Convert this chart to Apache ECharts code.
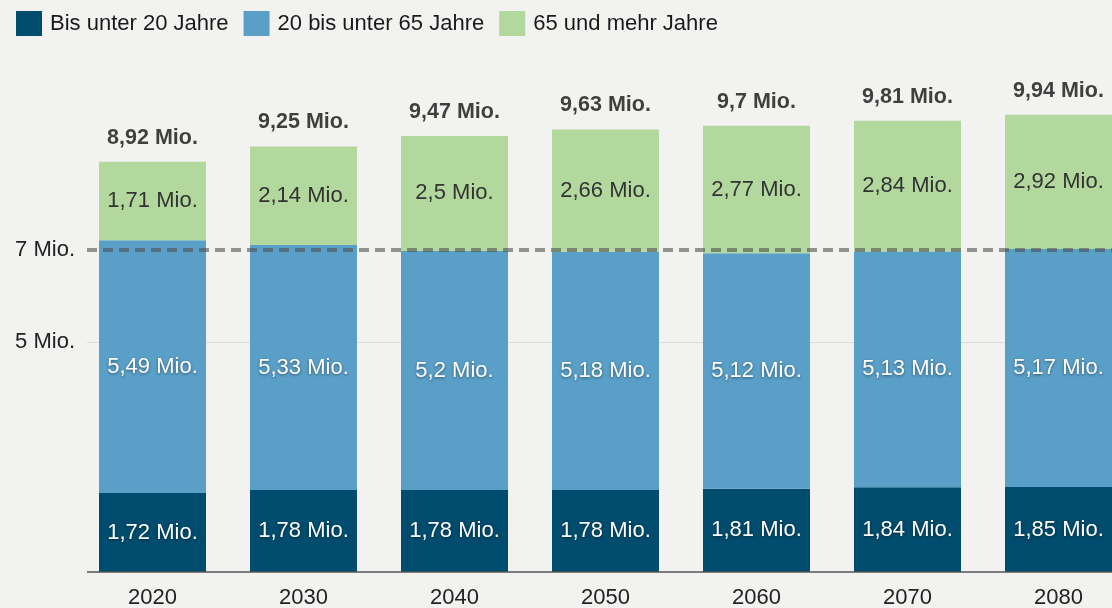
<!DOCTYPE html>
<html>
<head>
<meta charset="utf-8">
<script src="https://cdn.jsdelivr.net/npm/echarts@6/dist/echarts.min.js"></script>
<style>
  html, body { margin: 0; padding: 0; background: #f2f2f1; }
  #main { width: 1112px; height: 608px; }
</style>
</head>
<body>
<div id="main"></div>
<script>
var years = ['2020', '2030', '2040', '2050', '2060', '2070', '2080'];
var unter20 = [1.72, 1.78, 1.78, 1.78, 1.81, 1.84, 1.85];
var von20bis65 = [5.49, 5.33, 5.2, 5.18, 5.12, 5.13, 5.17];
var ab65 = [1.71, 2.14, 2.5, 2.66, 2.77, 2.84, 2.92];
var gesamt = [8.92, 9.25, 9.47, 9.63, 9.7, 9.81, 9.94];
var yTicks = [5, 7];

var myChart = echarts.init(document.getElementById('main'));
var font = 'Liberation Sans, Arial, sans-serif';

function mio(v) {
    return String(v).replace('.', ',') + ' Mio.';
}

var whiteLabel = {
    show: true,
    position: 'inside',
    color: '#fff',
    fontFamily: font,
    fontSize: 22,
    textShadowColor: 'rgba(0,0,0,0.45)',
    textShadowBlur: 3,
    textShadowOffsetY: 1,
    formatter: function (p) { return mio(p.value); }
};

var option = {
    backgroundColor: '#f2f2f1',
    animation: false,
    legend: {
        data: ['Bis unter 20 Jahre', '20 bis unter 65 Jahre', '65 und mehr Jahre'],
        left: 11,
        top: 6,
        icon: 'rect',
        itemWidth: 26,
        itemHeight: 25,
        itemGap: 15,
        textStyle: {
            color: '#1a1a1a',
            fontFamily: font,
            fontSize: 22,
            padding: [0, 0, 0, 3]
        }
    },
    grid: {
        left: 77,
        width: 1057,
        top: 66,
        bottom: 36,
        outerBoundsMode: 'none'
    },
    xAxis: {
        type: 'category',
        data: years,
        axisLine: { show: false },
        axisTick: { show: false },
        axisLabel: {
            color: '#222',
            fontFamily: font,
            fontSize: 22,
            margin: 15
        }
    },
    yAxis: {
        type: 'value',
        min: 0,
        max: 11,
        interval: 1,
        axisLine: { show: false },
        axisTick: { show: false },
        splitLine: { show: false },
        axisLabel: {
            color: '#222',
            fontFamily: font,
            fontSize: 22,
            margin: 2,
            formatter: function (v) {
                return yTicks.indexOf(v) >= 0 ? v + ' Mio.' : '';
            }
        }
    },
    series: [
        {
            name: 'Bis unter 20 Jahre',
            type: 'bar',
            stack: 'total',
            barWidth: 107,
            data: unter20,
            itemStyle: { color: '#004c6e' },
            label: whiteLabel,
            markLine: {
                silent: true,
                symbol: ['none', 'none'],
                label: { show: false },
                lineStyle: { color: '#555', width: 1.5, type: 'solid' },
                data: [[{ x: 87, yAxis: 0 }, { x: 1112, yAxis: 0 }]]
            }
        },
        {
            name: '20 bis unter 65 Jahre',
            type: 'bar',
            stack: 'total',
            data: von20bis65,
            itemStyle: { color: '#5a9fc8' },
            label: whiteLabel,
            markLine: {
                silent: true,
                z: 1,
                symbol: ['none', 'none'],
                label: { show: false },
                lineStyle: { color: '#dcdcdc', width: 1, type: 'solid' },
                data: [[{ x: 87, yAxis: 5 }, { x: 1112, yAxis: 5 }]]
            }
        },
        {
            name: '65 und mehr Jahre',
            type: 'bar',
            stack: 'total',
            data: ab65,
            itemStyle: { color: '#b2d89d' },
            label: {
                show: true,
                position: 'inside',
                color: '#333',
                fontFamily: font,
                fontSize: 22,
                formatter: function (p) { return mio(p.value); }
            },
            markLine: {
                silent: true,
                symbol: ['none', 'none'],
                label: { show: false },
                lineStyle: { color: 'rgba(80,80,80,0.6)', width: 4, type: [10, 6] },
                data: [[{ x: 87, yAxis: 7 }, { x: 1112, yAxis: 7 }]]
            }
        },
        {
            name: 'Gesamt',
            type: 'scatter',
            data: gesamt,
            symbolSize: 0,
            silent: true,
            label: {
                show: true,
                position: 'top',
                distance: 13,
                color: '#111',
                fontFamily: font,
                fontSize: 21.5,
                fontWeight: 'bold',
                formatter: function (p) { return mio(p.value); }
            }
        }
    ]
};

myChart.setOption(option);
</script>
</body>
</html>
